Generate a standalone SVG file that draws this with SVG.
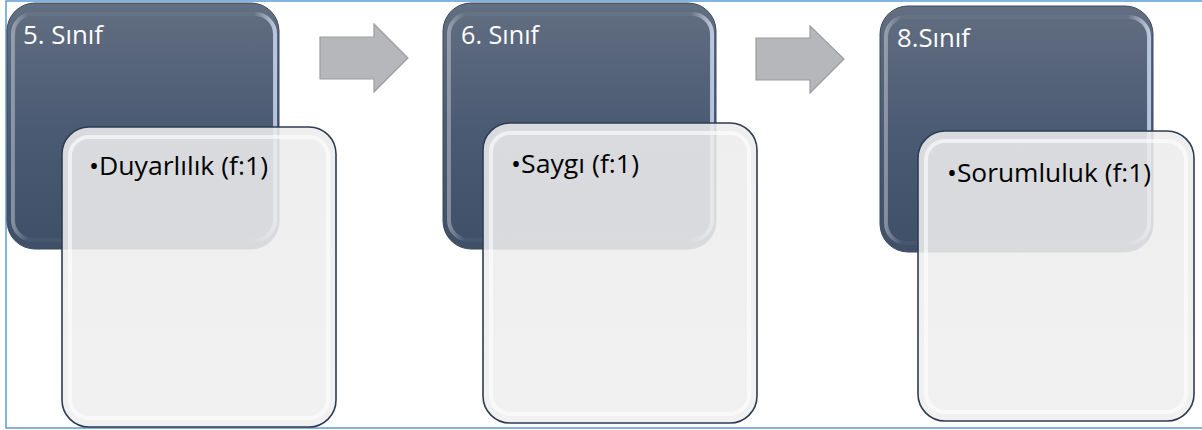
<svg xmlns="http://www.w3.org/2000/svg" width="1202" height="430" viewBox="0 0 1202 430">
<defs>
<linearGradient id="gDark" x1="0" y1="0" x2="0" y2="1">
<stop offset="0" stop-color="#626e81"/>
<stop offset="0.5" stop-color="#4c5b74"/>
<stop offset="1" stop-color="#3f4f68"/>
</linearGradient>
<linearGradient id="gDarkEdge" x1="0" y1="0" x2="1" y2="0">
<stop offset="0" stop-color="#ffffff" stop-opacity="0.35"/>
<stop offset="0.06" stop-color="#ffffff" stop-opacity="0.04"/>
<stop offset="0.92" stop-color="#ffffff" stop-opacity="0.04"/>
<stop offset="1" stop-color="#d8e6ff" stop-opacity="0.75"/>
</linearGradient>
<linearGradient id="gLight" x1="0" y1="0" x2="0" y2="1">
<stop offset="0" stop-color="#ececec"/>
<stop offset="1" stop-color="#efefef"/>
</linearGradient>
</defs>
<style>
.frame{fill:#ffffff;stroke:#5b9bd5;stroke-width:1.5}
.dark{fill:url(#gDark);stroke:#3a4860;stroke-width:1}
.darkgloss{fill:none;stroke:url(#gDarkEdge);stroke-width:4}
.light{fill:url(#gLight);fill-opacity:0.88;stroke:#2e3d52;stroke-width:1.6}
.lightgloss{fill:none;stroke:#ffffff;stroke-opacity:0.6;stroke-width:4}
.arrow{fill:#b6b7bb;stroke:#9c9da1;stroke-width:1.2}
.title{font-family:"Open Sans","Liberation Sans",sans-serif;font-size:25px;fill:#ffffff}
.item{font-family:"Open Sans","Liberation Sans",sans-serif;font-size:26px;fill:#000000}
</style>
<rect class="frame" x="6" y="1" width="1200" height="427"/>
<g id="connectors">
<polygon class="arrow" points="320,37 374,37 374,24 408,58 374,92 374,79 320,79"/>
<polygon class="arrow" points="756,38 810,38 810,26 844,59 810,93 810,80 756,80"/>
</g>
<g id="node-5sinif">
<rect class="dark" x="7" y="3" width="272" height="246" rx="28" ry="28"/>
<rect class="darkgloss" x="13" y="14" width="262" height="226" rx="20" ry="20"/>
<text class="title" x="23" y="44" textLength="80" lengthAdjust="spacingAndGlyphs">5. Sınıf</text>
</g>
<g id="node-duyarlilik">
<rect class="light" x="62" y="127" width="274" height="300" rx="27" ry="27"/>
<rect class="lightgloss" x="70" y="137" width="258" height="281" rx="19" ry="19"/>
<text class="item" x="89" y="175" textLength="179" lengthAdjust="spacingAndGlyphs">•Duyarlılık (f:1)</text>
</g>
<g id="node-6sinif">
<rect class="dark" x="443" y="3" width="273" height="246" rx="28" ry="28"/>
<rect class="darkgloss" x="449" y="14" width="263" height="226" rx="20" ry="20"/>
<text class="title" x="461" y="44" textLength="78" lengthAdjust="spacingAndGlyphs">6. Sınıf</text>
</g>
<g id="node-saygi">
<rect class="light" x="483" y="123" width="274" height="300" rx="27" ry="27"/>
<rect class="lightgloss" x="491" y="133" width="258" height="281" rx="19" ry="19"/>
<text class="item" x="511" y="173" textLength="128" lengthAdjust="spacingAndGlyphs">•Saygı (f:1)</text>
</g>
<g id="node-8sinif">
<rect class="dark" x="880" y="6" width="273" height="246" rx="28" ry="28"/>
<rect class="darkgloss" x="886" y="17" width="263" height="226" rx="20" ry="20"/>
<text class="title" x="897" y="47" textLength="73" lengthAdjust="spacingAndGlyphs">8.Sınıf</text>
</g>
<g id="node-sorumluluk">
<rect class="light" x="918" y="131" width="276" height="290" rx="27" ry="27"/>
<rect class="lightgloss" x="926" y="141" width="260" height="271" rx="19" ry="19"/>
<text class="item" x="947" y="182" textLength="204" lengthAdjust="spacingAndGlyphs">•Sorumluluk (f:1)</text>
</g>
</svg>
